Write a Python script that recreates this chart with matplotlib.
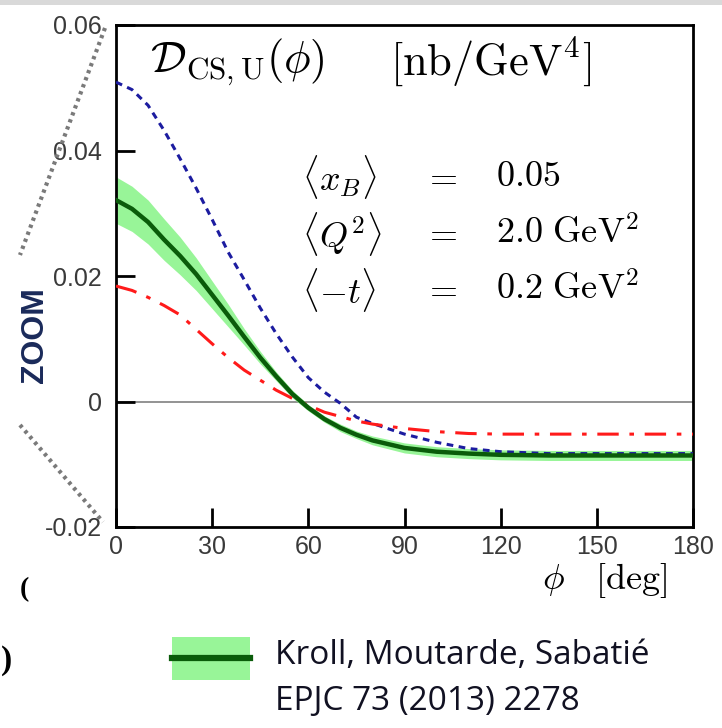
import matplotlib
matplotlib.use("Agg")
import matplotlib.pyplot as plt
from matplotlib.patches import Rectangle
from matplotlib.lines import Line2D
import numpy as np

plt.rcParams['mathtext.fontset'] = 'cm'
plt.rcParams['font.family'] = ['Liberation Sans', 'DejaVu Sans']

# ---- data (phi in degrees) ----
phi = [0, 5, 10, 15, 20, 25, 30, 35, 40, 45, 50, 55, 60, 65, 70, 75, 80,
       90, 100, 110, 120, 135, 150, 165, 180]
kms_central = [0.0321, 0.0307, 0.0286, 0.0258, 0.0232, 0.0203, 0.0170, 0.0137,
               0.0103, 0.0070, 0.0040, 0.0012, -0.0010, -0.0028, -0.0042,
               -0.0053, -0.0062, -0.0074, -0.0080, -0.0083, -0.0085, -0.0086,
               -0.0086, -0.0086, -0.0086]
kms_halfwidth = [0.0037, 0.0036, 0.0035, 0.0033, 0.0030, 0.0026, 0.0022, 0.0018,
                 0.0013, 0.0010, 0.0007, 0.0006, 0.0005, 0.0005, 0.0006,
                 0.0006, 0.0007, 0.0008, 0.0008, 0.0008, 0.0008, 0.0008,
                 0.0008, 0.0008, 0.0008]
blue_dashed = [0.0509, 0.0497, 0.0472, 0.0432, 0.0387, 0.0340, 0.0290, 0.0238,
               0.0194, 0.0149, 0.0108, 0.0071, 0.0038, 0.0015, -0.0003,
               -0.0025, -0.0035, -0.0052, -0.0065, -0.0075, -0.0080, -0.0083,
               -0.0083, -0.0083, -0.0083]
red_dashdot = [0.0184, 0.0177, 0.0166, 0.0153, 0.0138, 0.0115, 0.0092, 0.0070,
               0.0050, 0.0034, 0.0018, 0.0005, -0.0006, -0.0017, -0.0024,
               -0.0031, -0.0036, -0.0043, -0.0048, -0.0051, -0.0052, -0.0052,
               -0.0052, -0.0052, -0.0052]
xticks = [0, 30, 60, 90, 120, 150, 180]
yticks = [-0.02, 0, 0.02, 0.04, 0.06]
ytick_labels = ['-0.02', '0', '0.02', '0.04', '0.06']

W, H = 722, 728
fig = plt.figure(figsize=(W / 100, H / 100), dpi=100)


def fx(px):
    return px / W


def fy(py):
    return 1 - py / H


ax = fig.add_axes([fx(116), fy(527), fx(693) - fx(116), fy(25) - fy(527)])

phi_a = np.array(phi)
c = np.array(kms_central)
hw = np.array(kms_halfwidth)

ax.axhline(0, color='#808080', lw=1.2, zorder=1)
ax.fill_between(phi_a, c - hw, c + hw, color='#98f598', lw=0, zorder=2)
ax.plot(phi_a, blue_dashed, color='#1c1ca0', lw=2.2, ls=(0, (2.2, 1.8)), zorder=3)
ax.plot(phi_a, red_dashdot, color='#ff1a1a', lw=2.2,
        ls=(0, (7, 3.5, 1.5, 3.5)), zorder=3)
ax.plot(phi_a, c, color='#0a5c0a', lw=3.2, zorder=4)

ax.set_xlim(0, 180)
ax.set_ylim(-0.02, 0.06)
ax.set_xticks(xticks)
ax.set_yticks(yticks)
ax.set_yticklabels(ytick_labels)
ax.tick_params(direction='in', length=14, width=2, colors='black',
               labelcolor='#3a3a3a', labelsize=18)
ax.tick_params(axis='y', pad=10)
ax.tick_params(axis='x', pad=6)
for s in ax.spines.values():
    s.set_linewidth(2)

# title inside axes
fig.text(fx(150), fy(62), r'$\mathcal{D}_{\rm CS,U}(\phi)$', fontsize=32,
         va='center', ha='left')
fig.text(fx(390), fy(62), r'$[\mathrm{nb/GeV}^4]$', fontsize=32,
         va='center', ha='left')

rows = [(r'$\langle x_B\rangle$', r'$\mathbf{=}$', r'$0.05$', 177),
        (r'$\langle Q^2\rangle$', r'$\mathbf{=}$', r'$2.0\ \mathrm{GeV}^2$', 234),
        (r'$\langle{-}t\rangle$', r'$=$', r'$0.2\ \mathrm{GeV}^2$', 290)]
for lab, eq, val, y in rows:
    fig.text(fx(302), fy(y), lab, fontsize=26, va='center', ha='left')
    fig.text(fx(440), fy(y), eq, fontsize=26, va='center', ha='center')
    fig.text(fx(496), fy(y), val, fontsize=26, va='center', ha='left')

# x axis label
fig.text(fx(667), fy(580), r'$\phi\quad[\mathrm{deg}]$', fontsize=26,
         va='center', ha='right')

# zoom-frame decorations
fig.add_artist(Line2D([fx(105), fx(20)], [fy(28), fy(255)], color='#7a7a7a',
                      lw=3, ls=(0, (0.8, 1.0))))
fig.add_artist(Line2D([fx(20), fx(103)], [fy(425), fy(522)], color='#7a7a7a',
                      lw=3, ls=(0, (0.8, 1.0))))
fig.text(fx(35), fy(335), 'ZOOM', rotation=90, fontsize=23, fontweight='bold',
         color='#1a2a5a', va='center', ha='center')
fig.text(fx(20), fy(590), '(', fontsize=20, fontweight='bold',
         family='Liberation Serif', va='center', ha='left')
fig.text(fx(1), fy(660), ')', fontsize=24, fontweight='bold',
         family='Liberation Serif', va='center', ha='left')

# top grey strip
fig.add_artist(Rectangle((0, fy(5)), 1, fy(0) - fy(5), transform=fig.transFigure,
                         color='#d9d9d9', lw=0))

# legend
fig.add_artist(Rectangle((fx(172), fy(680)), fx(250) - fx(172), fy(637) - fy(680),
                         transform=fig.transFigure, color='#98f598', lw=0))
fig.add_artist(Line2D([fx(172), fx(250)], [fy(658), fy(658)], color='#0a5c0a',
                      lw=4.5))
fig.text(fx(275), fy(655), 'Kroll, Moutarde, Sabatié', fontsize=24,
         family='Open Sans', color='#111122', va='center', ha='left')
fig.text(fx(275), fy(702), 'EPJC 73 (2013) 2278', fontsize=24,
         family='Open Sans', color='#111122', va='center', ha='left')

fig.savefig('out.png', dpi=100)
